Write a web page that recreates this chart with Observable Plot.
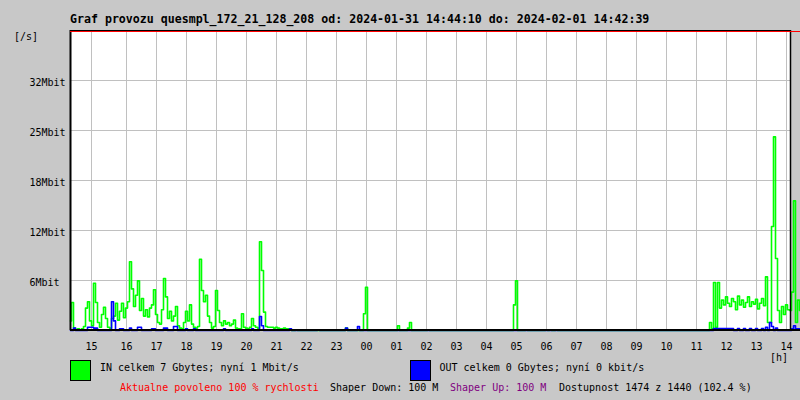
<!DOCTYPE html>
<html><head><meta charset="utf-8">
<script src="https://cdn.jsdelivr.net/npm/d3@7"></script>
<script src="https://cdn.jsdelivr.net/npm/@observablehq/plot@0.6"></script>
<style>
html,body{margin:0;padding:0;background:#c8c8c8;}
svg text{font-family:"DejaVu Sans Mono",monospace;}
</style></head><body><div id="chart"></div>
<script>
const titleText = "Graf provozu quesmpl_172_21_128_208 od: 2024-01-31 14:44:10 do: 2024-02-01 14:42:39";
const yUnitLabel = "[/s]";
const xUnitLabel = "[h]";
const sampleMinutes = 4;
// IN traffic, Mbit/s, one value every 4 minutes from the start of the graph
const inMbit = [
1.2,3.5,0.3,0.1,0.2,0.1,0.2,0.5,2.8,3.6,
1.2,0.6,5.9,3.5,1.0,0.4,2.0,2.9,1.5,0.4,
0.3,1.5,1.8,3.4,1.3,2.4,3.4,1.6,2.8,3.6,
8.6,5.2,3.0,4.4,6.2,2.5,4.0,1.8,2.6,1.7,
2.8,3.2,5.1,2.0,1.0,0.8,2.6,6.5,4.2,1.5,
2.4,1.2,1.8,3.0,0.6,0.3,0.2,1.0,2.4,1.2,
3.2,0.8,0.4,0.3,0.5,8.9,5.0,3.6,4.4,1.8,
1.0,0.3,0.5,5.0,2.5,1.0,0.6,1.2,0.8,1.0,
0.6,0.8,1.3,0.3,0.2,0.2,2.1,0.4,0.3,0.2,
0.4,1.5,0.6,0.4,0.3,11.1,7.5,2.3,0.5,0.4,
0.4,0.4,0.3,0.4,0.3,0.2,0.2,0.3,0.2,0.2,
0.1,0,0,0.1,0,0,0,0,0,0,
0,0,0,0,0,0,0,0,0,0,
0,0,0,0,0,0,0,0,0.3,0,
0,0,0,0,0,0,0,2.1,5.4,0,
0,0,0,0,0,0,0,0,0,0,
0,0,0,0,0.6,0,0,0,0,0.3,
1.0,0,0,0,0,0,0,0,0,0.1,
0,0,0,0,0,0,0,0,0,0,
0,0,0,0,0,0,0,0,0,0,
0,0,0,0,0,0,0,0,0,0,
0,0,0,0,0,0,0,0,0,0,
0,0,3.2,6.2,0,0,0,0,0.1,0,
0,0,0,0,0,0,0,0,0.1,0,
0.1,0,0,0.1,0,0,0,0,0,0,
0,0,0,0,0,0,0,0,0,0,
0,0,0,0,0,0,0,0,0,0,
0,0,0,0,0,0,0,0,0,0,
0,0,0,0,0,0,0,0,0,0,
0,0,0,0,0,0,0,0,0,0,
0,0,0,0,0,0,0,0,0,0,
0,0,0,0,0,0,0,0,0,0,
1.0,0.2,6.0,0.4,6.0,2.8,3.8,3.2,4.2,3.4,
3.0,4.0,3.6,2.6,4.3,3.2,3.8,2.9,3.5,4.2,
3.0,3.6,3.3,3.9,2.7,3.4,4.0,3.1,6.7,1.0,
1.0,13.0,24.2,9.0,2.5,1.0,3.0,2.0,3.2,2.6,
2.5,4.8,16.2,1.0,3.8,2.5
];
// OUT traffic, Mbit/s, same sampling
const outMbit = [
0,0,0.3,0,0,0,0,0,0,0.4,
0.4,0.4,0.3,0.3,0,0,0,0,0,0,
0,3.6,1.2,0,0,0.2,0.2,0,0,0,
0.3,0,0,0,0.4,0.4,0,0,0,0,
0,0.2,0.2,0,0,0,0,0.3,0.3,0,
0,0,0.5,0.5,0,0,0,0,0.2,0,
0,0,0.2,0,0,0,0,0,0,0,
0,0,0,0,0,0,0,0.2,0,0,
0,0,0,0,0,0,0,0,0,0,
0,0.2,0,0,0,1.75,0.6,0,0,0,
0,0,0,0,0,0,0,0,0,0,
0.2,0,0,0,0,0,0,0,0,0,
0,0,0,0,0.1,0,0,0,0,0,
0,0,0,0,0,0,0,0,0.3,0,
0,0,0,0,0.5,0,0,0,0,0,
0,0,0,0,0,0,0,0,0,0,
0,0,0,0,0,0,0,0,0,0,
0,0,0,0,0,0,0,0,0,0,
0,0,0,0,0,0,0,0,0,0,
0,0,0,0,0,0,0,0,0,0,
0,0,0,0,0,0,0,0,0,0,
0,0,0,0,0,0,0,0,0,0,
0,0,0,0,0,0,0,0,0,0,
0,0,0,0,0,0,0,0,0,0,
0,0,0,0,0,0,0,0,0,0,
0,0,0,0,0,0,0,0,0,0,
0,0,0,0,0,0,0,0,0,0,
0,0,0,0,0,0,0,0,0,0,
0,0,0,0,0,0,0,0,0,0,
0,0,0,0,0,0,0,0,0,0,
0,0,0,0,0,0,0,0,0,0,
0,0,0,0,0,0,0,0,0,0,
0,0,0.25,0.25,0.25,0.25,0.25,0.25,0.25,0.25,
0.25,0.25,0,0,0.25,0,0,0.25,0,0,
0.25,0,0,0.25,0,0,0.25,0,0.4,0,
1.0,0.5,0,0.3,0,0,0,0,0,0,
0,0.2,0.6,0.2,0.2,0.2
];
const graphMinutes = 1440;
const xTickMinutes = [42,112,172,232,292,352,412,472,532,592,652,712,772,832,892,952,1012,1072,1132,1192,1252,1312,1372,1432];
const xTickLabels = ["15","16","17","18","19","20","21","22","23","00","01","02","03","04","05","06","07","08","09","10","11","12","13","14"];
const yMax = 37.5;
const yTickValues = [6.25,12.5,18.75,25,31.25];
const yTickLabels = ["6Mbit","12Mbit","18Mbit","25Mbit","32Mbit"];
const legendIn = "IN celkem 7 Gbytes; nyní 1 Mbit/s";
const legendOut = "OUT celkem 0 Gbytes; nyní 0 kbit/s";
const footerParts = [
  {text: "Aktualne povoleno 100 % rychlosti", color: "#ff0000"},
  {text: "Shaper Down: 100 M", color: "#000000"},
  {text: "Shaper Up: 100 M", color: "#800080"},
  {text: "Dostupnost 1474 z 1440 (102.4 %)", color: "#000000"}
];

const inData = inMbit.map((v, i) => ({t: i * sampleMinutes, v}));
const outData = outMbit.map((v, i) => ({t: i * sampleMinutes, v}));
const lastT = (inMbit.length - 1) * sampleMinutes;
const edge = [{y: yMax, a: 0, b: lastT}];
const base = [{y: 0, a: 0, b: lastT}];

const chart = Plot.plot({
  width: 800, height: 400,
  marginLeft: 70, marginRight: 10, marginTop: 30, marginBottom: 70,
  style: {background: "#c8c8c8", fontFamily: "'DejaVu Sans Mono', monospace", fontSize: "10px", color: "#000", overflow: "visible"},
  x: {domain: [0, graphMinutes]},
  y: {domain: [0, yMax]},
  marks: [
    Plot.frame({fill: "white", stroke: null}),
    Plot.gridX(xTickMinutes, {stroke: "#c0c0c0", strokeOpacity: 1, strokeWidth: 1}),
    Plot.gridY(yTickValues, {stroke: "#c0c0c0", strokeOpacity: 1, strokeWidth: 1}),
    Plot.lineY(inData, {x: "t", y: "v", stroke: "#00ff00", strokeWidth: 1.6, curve: "step"}),
    Plot.lineY(outData, {x: "t", y: "v", stroke: "#0000ff", strokeWidth: 1.6, curve: "step"}),
    Plot.ruleX([0], {stroke: "black", strokeWidth: 2}),
    Plot.ruleX([graphMinutes], {stroke: "black", strokeWidth: 1.5}),
    Plot.ruleY([yMax], {stroke: "black", strokeWidth: 1}),
    Plot.ruleY(edge, {y: "y", x1: "a", x2: "b", stroke: "#ff0000", strokeWidth: 1, dy: 1}),
    Plot.ruleY(base, {y: "y", x1: "a", x2: "b", stroke: "black", strokeWidth: 2, dy: -0.5}),
    Plot.axisX(xTickMinutes, {tickSize: 0, tickPadding: 12, label: null,
      tickFormat: d => xTickLabels[xTickMinutes.indexOf(d)]}),
    Plot.axisY(yTickValues, {tickSize: 0, tickPadding: 41, textAnchor: "start", dy: 2, label: null,
      tickFormat: d => yTickLabels[yTickValues.indexOf(d)]})
  ]
});
document.getElementById("chart").appendChild(chart);

const svg = d3.select(chart);
const txt = (x, y, s, opts = {}) => svg.append("text")
  .attr("x", x).attr("y", y)
  .attr("font-family", "'DejaVu Sans Mono', monospace")
  .attr("font-size", opts.size || "10px")
  .attr("font-weight", opts.weight || "normal")
  .attr("fill", opts.color || "#000")
  .attr("text-anchor", opts.anchor || "start")
  .text(s);

txt(70, 23, titleText, {size: "11.6px", weight: "bold"});
txt(14, 40, yUnitLabel);
txt(770, 360.5, xUnitLabel);

svg.append("rect").attr("x", 70.5).attr("y", 360.5).attr("width", 20).attr("height", 20)
  .attr("fill", "#00ff00").attr("stroke", "#000").attr("stroke-width", 1);
txt(100, 371, legendIn);
svg.append("rect").attr("x", 410.5).attr("y", 360.5).attr("width", 20).attr("height", 20)
  .attr("fill", "#0000ff").attr("stroke", "#000").attr("stroke-width", 1);
txt(439.5, 371, legendOut);

const footerX = [120, 330, 450, 559];
footerParts.forEach((p, i) => txt(footerX[i], 390.5, p.text, {color: p.color}));
</script>
</body></html>
